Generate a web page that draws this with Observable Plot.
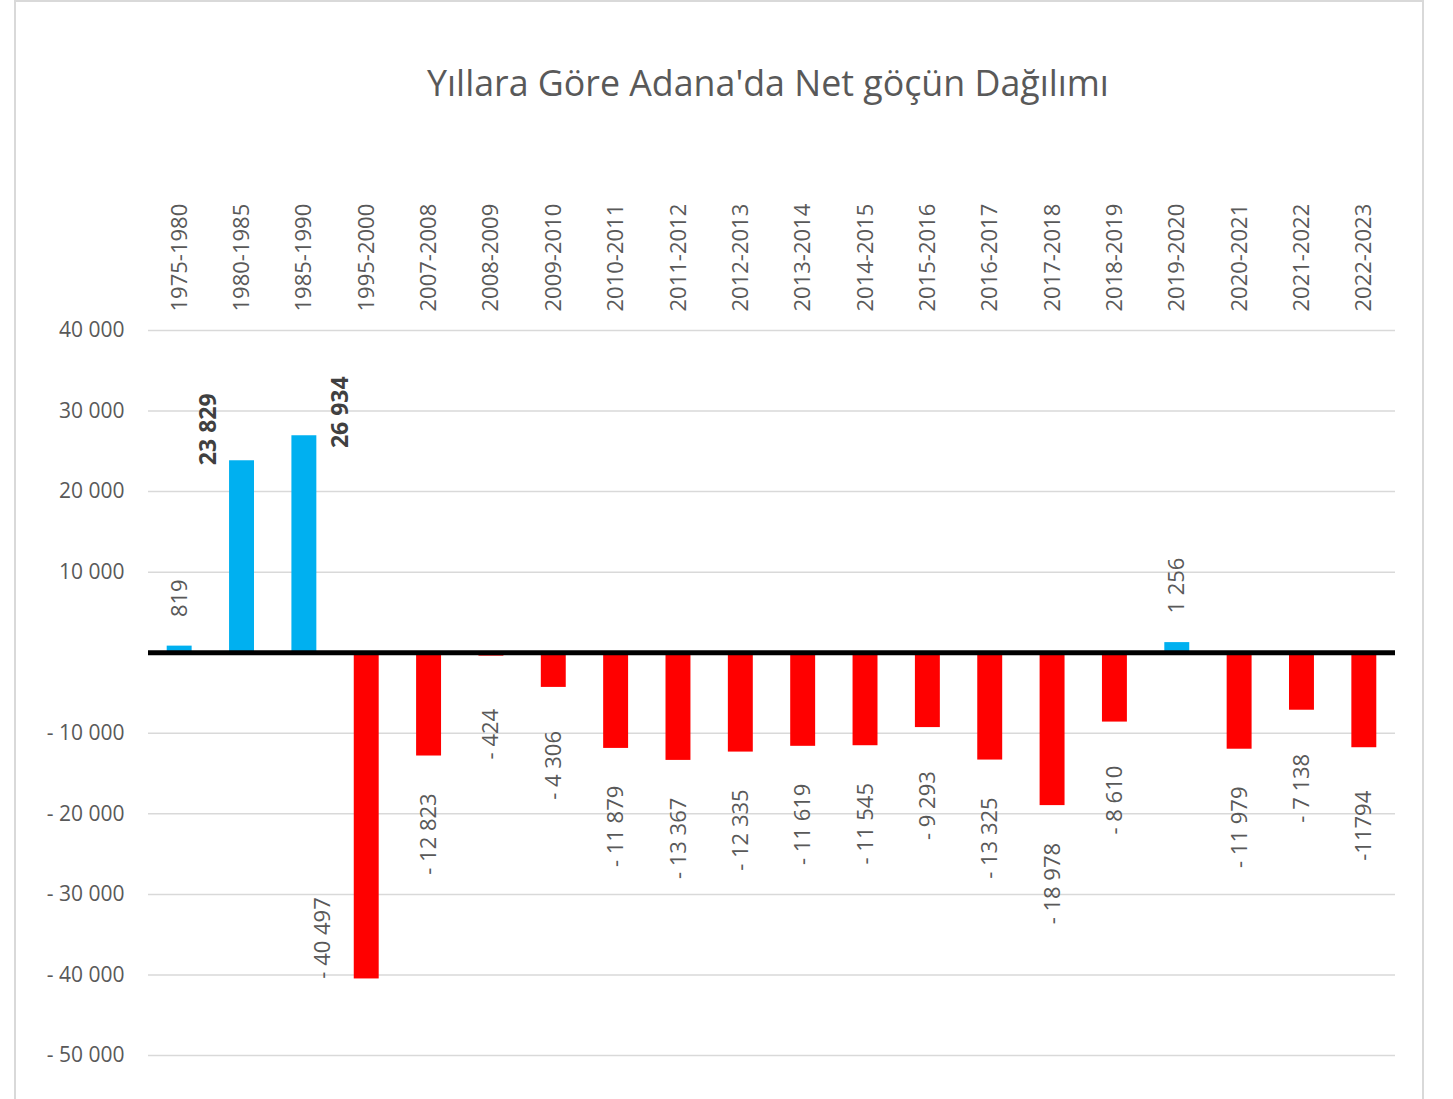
<!DOCTYPE html>
<html>
<head>
<meta charset="utf-8">
<script src="https://cdn.jsdelivr.net/npm/d3@7"></script>
<script src="https://cdn.jsdelivr.net/npm/@observablehq/plot@0.6"></script>
<style>
  html, body { margin: 0; padding: 0; background: #fff; overflow: hidden; width: 1453px; height: 1099px; }
  body { font-family: "Open Sans", sans-serif; position: relative; }
  #frame { position: absolute; left: 14px; top: 0; width: 1410px; height: 1130px; border: 2px solid #d9d9d9; box-sizing: border-box; }
  #title { position: absolute; left: 0; top: 0; width: 1453px; height: 130px; box-sizing: border-box; padding-left: 83px; text-align: center; color: #595959; font-size: 36px; line-height: 36px; padding-top: 66px; white-space: nowrap; }
  #title span { display: inline-block; }
  #chart { position: absolute; left: 0; top: 130px; }
</style>
</head>
<body>
<div id="frame"></div>
<div id="title"><span id="titleText">Yıllara Göre Adana'da Net göçün Dağılımı</span></div>
<div id="chart"></div>
<script>
const periods = ["1975-1980","1980-1985","1985-1990","1995-2000","2007-2008","2008-2009","2009-2010","2010-2011","2011-2012","2012-2013","2013-2014","2014-2015","2015-2016","2016-2017","2017-2018","2018-2019","2019-2020","2020-2021","2021-2022","2022-2023"];
const netMigration = [819, 23829, 26934, -40497, -12823, -424, -4306, -11879, -13367, -12335, -11619, -11545, -9293, -13325, -18978, -8610, 1256, -11979, -7138, -11794];
const valueLabels = ["819","23 829","26 934","- 40 497","- 12 823","- 424","- 4 306","- 11 879","- 13 367","- 12 335","- 11 619","- 11 545","- 9 293","- 13 325","- 18 978","- 8 610","1 256","- 11 979","- 7 138","-11794"];
const yTicks = [40000, 30000, 20000, 10000, 0, -10000, -20000, -30000, -40000, -50000];
const boldLeft = "1980-1985";
const boldRight = "1985-1990";
const shiftedNeg = "1995-2000";

const data = periods.map((p, i) => ({period: p, value: netMigration[i], label: valueLabels[i]}));

const thousands = v => String(Math.abs(v)).replace(/\B(?=(\d{3})+(?!\d))/g, " ");
const tickFmt = v => v === 0 ? "" : (v < 0 ? "- " : "") + thousands(v);

const labelGray = "#595959";
const font = "'Open Sans', sans-serif";

const chart = Plot.plot({
  width: 1453,
  height: 969,
  marginLeft: 148,
  marginRight: 58,
  marginTop: 200,
  marginBottom: 44,
  style: {fontFamily: font, background: "transparent", color: labelGray},
  x: {domain: periods, paddingInner: 0.6, paddingOuter: 0.3, round: false, axis: null},
  y: {domain: [-50000, 40000], nice: false},
  marks: [
    Plot.gridY(yTicks, {stroke: "#d9d9d9", strokeOpacity: 1, strokeWidth: 1.5}),
    Plot.axisY(yTicks, {tickSize: 0, tickPadding: 24, tickFormat: tickFmt, fontSize: 21, fill: labelGray, label: null}),
    Plot.barY(data.filter(d => d.value >= 0), {x: "period", y: "value", fill: "#00B0F0"}),
    Plot.barY(data.filter(d => d.value < 0), {x: "period", y: "value", fill: "#FF0000"}),
    Plot.ruleY([0], {stroke: "black", strokeWidth: 5}),
    Plot.text(periods, {x: d => d, frameAnchor: "top", rotate: -90, textAnchor: "start", lineAnchor: "middle", dy: -19, fontSize: 22, fill: labelGray}),
    Plot.text(data.filter(d => d.value > 0 && d.period !== boldLeft && d.period !== boldRight), {x: "period", y: "value", text: "label", rotate: -90, textAnchor: "start", lineAnchor: "middle", dy: -29, fontSize: 22, fill: labelGray}),
    Plot.text(data.filter(d => d.value < 0 && d.period !== shiftedNeg), {x: "period", y: "value", text: "label", rotate: -90, textAnchor: "middle", lineAnchor: "middle", dy: 78, fontSize: 22, fill: labelGray}),
    Plot.text(data.filter(d => d.period === shiftedNeg), {x: "period", y: "value", text: "label", rotate: -90, textAnchor: "middle", lineAnchor: "middle", dx: -44, dy: -41, fontSize: 22, fill: labelGray}),
    Plot.text(data.filter(d => d.period === boldLeft), {x: "period", y: "value", text: "label", rotate: -90, textAnchor: "middle", lineAnchor: "middle", dx: -33.5, dy: -31.5, fontSize: 23, fontWeight: "bold", fill: "#404040"}),
    Plot.text(data.filter(d => d.period === boldRight), {x: "period", y: "value", text: "label", rotate: -90, textAnchor: "middle", lineAnchor: "middle", dx: 36, dy: -23.5, fontSize: 23, fontWeight: "bold", fill: "#404040"})
  ]
});
document.getElementById("chart").append(chart);

// fit title width to the reference (~682px)
const t = document.getElementById("titleText");
const w = t.getBoundingClientRect().width;
if (w > 0) {
  const fs = 36 * 682 / w;
  const title = document.getElementById("title");
  title.style.fontSize = fs + "px";
  title.style.lineHeight = fs + "px";
  title.style.paddingTop = (99 - 0.94 * fs) + "px";
}
</script>
</body>
</html>
